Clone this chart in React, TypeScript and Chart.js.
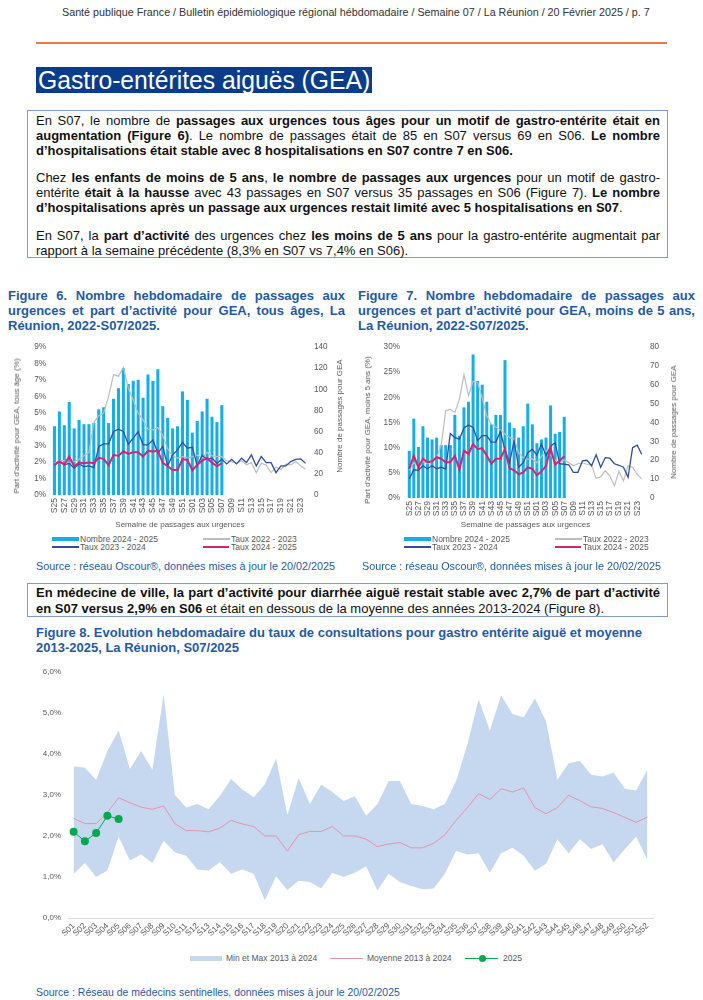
import React, { useEffect, useLayoutEffect, useRef, useState } from 'react';
import { Chart, registerables } from 'chart.js';

Chart.register(...registerables);

// ---------------- DATA ----------------
const weeksUrg = ['S25','S26','S27','S28','S29','S30','S31','S32','S33','S34','S35','S36','S37','S38','S39','S40','S41','S42','S43','S44','S45','S46','S47','S48','S49','S50','S51','S52','S01','S02','S03','S04','S05','S06','S07','S08','S09','S10','S11','S12','S13','S14','S15','S16','S17','S18','S19','S20','S21','S22','S23','S24'];
const weeksYear = ['S01','S02','S03','S04','S05','S06','S07','S08','S09','S10','S11','S12','S13','S14','S15','S16','S17','S18','S19','S20','S21','S22','S23','S24','S25','S26','S27','S28','S29','S30','S31','S32','S33','S34','S35','S36','S37','S38','S39','S40','S41','S42','S43','S44','S45','S46','S47','S48','S49','S50','S51','S52'];

// Figure 6 : tous âges
const fig6Nombre2425 = [65,79,66,88,63,71,67,67,68,81,83,68,91,101,120,105,108,109,92,114,108,119,84,73,63,65,98,90,59,70,79,91,74,69,85];
const fig6Taux2425 = [1.83,2.05,1.85,2.34,1.73,1.97,1.93,1.97,1.93,2.26,2.2,1.8,2.44,2.38,2.66,2.5,2.6,2.6,2.34,2.68,2.64,2.68,1.95,1.75,1.52,1.52,2.17,2.15,1.5,1.83,2.09,2.24,1.97,1.75,1.93];
const fig6Taux2324 = [1.83,2.03,1.83,1.93,1.63,1.89,1.73,1.77,1.67,2.95,3.11,3.11,3.86,4.0,3.86,3.09,3.46,3.86,3.05,3.05,3.35,2.54,2.95,1.77,2.44,2.74,3.2,2.85,2.9,1.77,2.4,2.17,2.24,1.93,2.17,1.89,2.17,1.89,2.24,1.97,2.44,1.77,2.34,1.97,1.97,1.36,1.77,1.77,2.03,2.17,2.2,1.93];
const fig6Taux2223 = [1.93,2.09,2.09,1.97,2.03,2.17,2.38,2.58,4.41,4.82,4.98,6.0,7.32,7.22,7.76,6.5,5.79,4.98,4.57,4.0,3.96,4.1,3.6,2.8,2.38,2.24,2.34,2.24,2.34,2.44,2.24,2.6,2.38,2.34,2.34,2.07,2.03,1.93,2.09,1.83,1.97,1.36,1.93,1.83,1.36,1.69,1.57,1.87,1.83,2.03,1.77,1.57];

// Figure 7 : moins de 5 ans
const fig7Nombre2425 = [25,42,27,38,32,31,32,28,28,28,44,33,48,51,76,62,60,51,39,44,44,73,40,37,32,38,50,39,29,31,32,49,34,35,43];
const fig7Taux2425 = [5.8,8.4,6.1,7.8,7.1,7.3,8.1,7.8,7.1,7.1,8.4,5.6,9.4,8.75,10.7,9.7,9.9,8.4,6.8,7.8,7.8,9.7,5.9,5.5,4.7,5.1,6.1,5.8,4.5,5.3,6.4,9.9,6.6,7.4,8.3];
const fig7Taux2324 = [3.8,5.6,5.5,6.4,5.8,6.4,5.8,6.1,5.8,12.8,12.0,11.7,13.9,14.5,14.0,11.4,12.4,12.4,11.1,11.1,13.2,9.5,7.0,11.3,6.1,7.0,9.0,9.7,8.5,10.7,8.4,10.3,11.0,6.8,6.7,6.6,5.1,5.1,7.4,7.5,6.4,8.6,6.1,8.0,7.9,6.8,6.5,6.1,4.1,10.0,10.5,8.7];
const fig7Taux2223 = [5.5,7.0,6.5,7.3,6.8,7.5,8.0,10.5,17.4,17.6,17.0,19.6,24.5,20.3,23.2,22.9,19.9,16.3,14.7,14.1,13.5,12.7,12.0,11.7,9.0,8.0,7.7,7.8,7.0,8.2,9.5,8.5,7.5,7.0,7.6,7.0,6.4,6.8,7.0,6.7,6.5,3.9,4.2,5.4,4.4,2.4,5.3,3.4,6.4,6.1,4.7,3.8];

// Figure 8 : médecins sentinelles
const fig8Max = [3.70,3.66,3.37,4.07,4.57,3.63,4.07,3.61,5.45,3.0,2.69,2.78,2.65,2.98,3.39,3.13,2.94,3.26,3.89,2.51,3.41,2.78,3.25,3.07,2.85,2.97,2.49,2.77,3.34,3.34,2.78,2.73,2.65,2.78,3.34,4.23,5.33,4.57,5.43,4.97,4.89,5.35,4.79,3.37,3.77,3.83,3.49,3.45,3.54,3.15,3.11,3.61];
const fig8Min = [1.07,1.34,1.0,1.16,1.98,1.40,1.55,1.34,1.88,1.60,1.52,1.18,1.16,1.36,1.08,1.18,1.08,0.43,1.02,0.68,0.91,0.88,0.72,1.10,1.0,1.10,1.26,0.67,1.08,0.88,0.78,0.70,0.72,1.08,1.63,1.55,1.58,1.10,1.58,1.71,1.52,1.15,1.32,1.92,1.58,1.92,1.68,1.80,1.36,1.68,1.98,1.42];
const fig8Moyenne = [2.43,2.30,2.30,2.57,2.93,2.81,2.70,2.65,2.73,2.30,2.13,2.13,2.10,2.19,2.38,2.29,2.23,2.0,2.0,1.63,2.03,2.11,2.11,2.23,2.0,2.0,1.92,1.74,1.80,1.84,1.71,1.71,1.82,2.03,2.38,2.69,3.03,2.89,3.15,3.07,3.17,2.69,2.54,2.69,2.99,2.86,2.71,2.67,2.57,2.45,2.33,2.46];
const fig8Annee2025 = [2.10,1.87,2.07,2.49,2.41];

// ---------------- STYLE ----------------
const SANS = '"Liberation Sans", Arial, Helvetica, sans-serif';
const TICK = '#595959';
const CYAN = '#16AEE6';
const DBLUE = '#2F4E9C';
const MAG = '#D4266F';
const GRAY = '#BDBDBD';
const BLUE_TXT = '#1F5AA8';
const BAND = '#C6D8EF';
const PINK = '#E496A8';
const GREEN = '#00A84F';

type UrgOpts = {
  nombre: number[]; t2425: number[]; t2324: number[]; t2223: number[];
  yMax: number; yStep: number; y1Max: number; y1Step: number;
  leftW: number; rightW: number; xH: number; padTop: number; catPct: number;
  leftPad: number; rightPad: number;
};

function urgConfig(o: UrgOpts): any {
  const tickFont = { family: SANS, size: 8.2 };
  return {
    type: 'bar',
    data: {
      labels: weeksUrg,
      datasets: [
        { type: 'line', label: 'Taux 2024 - 2025', data: o.t2425, borderColor: MAG, borderWidth: 2, pointRadius: 0, yAxisID: 'y', order: 1, fill: false },
        { type: 'line', label: 'Taux 2023 - 2024', data: o.t2324, borderColor: DBLUE, borderWidth: 1.3, pointRadius: 0, yAxisID: 'y', order: 2, fill: false },
        { type: 'line', label: 'Taux 2022 - 2023', data: o.t2223, borderColor: GRAY, borderWidth: 1.2, pointRadius: 0, yAxisID: 'y', order: 3, fill: false },
        { type: 'bar', label: 'Nombre 2024 - 2025', data: o.nombre, backgroundColor: CYAN, yAxisID: 'y1', order: 4, categoryPercentage: o.catPct, barPercentage: 1 },
      ],
    },
    options: {
      responsive: false,
      animation: false,
      events: [],
      layout: { padding: { top: o.padTop, left: 0, right: 0, bottom: 0 } },
      plugins: { legend: { display: false }, tooltip: { enabled: false } },
      scales: {
        x: {
          grid: { display: false, drawTicks: false },
          border: { display: false },
          ticks: {
            autoSkip: false, minRotation: 90, maxRotation: 90, font: { family: SANS, size: 8.6 }, color: TICK, padding: 3,
            callback: (_v: any, i: number) => (i % 2 === 0 ? weeksUrg[i] : ''),
          },
          title: { display: true, text: 'Semaine de passages aux urgences', font: { family: SANS, size: 8 }, color: TICK, padding: { top: 0, bottom: 0 } },
          afterFit: (s: any) => { s.height = o.xH; },
        },
        y: {
          position: 'left', min: 0, max: o.yMax,
          grid: { display: false, drawTicks: false }, border: { display: false },
          ticks: { stepSize: o.yStep, font: tickFont, color: TICK, padding: o.leftPad, callback: (v: any) => v + '%' },
          afterFit: (s: any) => { s.width = o.leftW; },
        },
        y1: {
          position: 'right', min: 0, max: o.y1Max,
          grid: { display: false, drawTicks: false }, border: { display: false },
          ticks: { stepSize: o.y1Step, font: tickFont, color: TICK, padding: o.rightPad },
          afterFit: (s: any) => { s.width = o.rightW; },
        },
      },
    },
  };
}

function fig8Config(): any {
  const tickFont = { family: SANS, size: 8 };
  return {
    type: 'line',
    data: {
      labels: weeksYear,
      datasets: [
        { label: '2025', data: fig8Annee2025, borderColor: GREEN, borderWidth: 1, pointRadius: 4, pointBackgroundColor: GREEN, pointBorderWidth: 0, fill: false, order: 0 },
        { label: 'Moyenne 2013 à 2024', data: fig8Moyenne, borderColor: PINK, borderWidth: 1, pointRadius: 0, fill: false, order: 1 },
        { label: 'Max', data: fig8Max, borderWidth: 0, borderColor: 'rgba(0,0,0,0)', backgroundColor: BAND, pointRadius: 0, fill: '+1', order: 3 },
        { label: 'Min', data: fig8Min, borderWidth: 0, borderColor: 'rgba(0,0,0,0)', backgroundColor: BAND, pointRadius: 0, fill: false, order: 2 },
      ],
    },
    options: {
      responsive: false,
      animation: false,
      events: [],
      layout: { padding: { top: 8.5, left: 0, right: 50, bottom: 0 } },
      plugins: { legend: { display: false }, tooltip: { enabled: false }, filler: { drawTime: 'beforeDatasetsDraw' } },
      scales: {
        x: {
          offset: true,
          grid: { display: false, drawTicks: false },
          border: { display: true, color: '#D9D9D9', width: 1 },
          ticks: { autoSkip: false, minRotation: 45, maxRotation: 45, font: { family: SANS, size: 8.3 }, color: TICK, padding: 3 },
          afterFit: (s: any) => { s.height = 27; },
        },
        y: {
          min: 0, max: 6,
          grid: { display: false, drawTicks: false }, border: { display: false },
          ticks: { stepSize: 1, font: tickFont, color: TICK, padding: 7, callback: (v: any) => Number(v).toFixed(1).replace('.', ',') + '%' },
          afterFit: (s: any) => { s.width = 68; },
        },
      },
    },
  };
}

// ---------------- COMPONENTS ----------------
function ChartCanvas({ left, top, width, height, make }: { left: number; top: number; width: number; height: number; make: () => any }) {
  const ref = useRef<HTMLCanvasElement | null>(null);
  useEffect(() => {
    const c = new Chart(ref.current as HTMLCanvasElement, make());
    return () => c.destroy();
  }, []);
  return <canvas ref={ref} width={width} height={height} style={{ position: 'absolute', left, top, width, height }} />;
}

// A line of text fitted to a width. mode: 'justify' (spaces stretched), 'last' (left aligned), 'exact' (scaled to width)
function FitLine({ x, y, w, size = 13, weight = 400, color = '#111', lh = 18, maxScale = 1, mode = 'justify', children }: any) {
  const meas = useRef<HTMLSpanElement | null>(null);
  const [s, setS] = useState(1);
  useLayoutEffect(() => {
    if (!meas.current) return;
    const nat = meas.current.offsetWidth;
    if (nat > 0) {
      if (mode === 'exact') setS(w / nat);
      else setS(Math.min(maxScale, w / nat));
    }
  }, [w, maxScale, mode]);
  const font: any = { fontFamily: SANS, fontSize: size, fontWeight: weight, whiteSpace: 'nowrap' };
  const align = mode === 'justify' ? 'justify' : 'left';
  return (
    <>
      <span ref={meas} style={{ ...font, position: 'absolute', left: 0, top: 0, visibility: 'hidden' }}>{children}</span>
      <div style={{
        ...font, position: 'absolute', left: x, top: y - lh / 2, width: w / s, height: lh, lineHeight: lh + 'px', color,
        textAlign: align, textAlignLast: align, transform: `scaleX(${s})`, transformOrigin: '0 0',
      } as any}>{children}</div>
    </>
  );
}

function Txt({ x, y, size = 8.5, color = TICK, weight = 400, children }: any) {
  return (
    <div style={{ position: 'absolute', left: x, top: y - 6, height: 12, lineHeight: '12px', fontFamily: SANS, fontSize: size, fontWeight: weight, color, whiteSpace: 'nowrap' }}>{children}</div>
  );
}

function VTitle({ cx, cy, size = 8, children }: any) {
  return (
    <div style={{ position: 'absolute', left: cx, top: cy, transform: 'translate(-50%, -50%) rotate(-90deg)', fontFamily: SANS, fontSize: size, color: TICK, whiteSpace: 'nowrap', lineHeight: '10px' }}>{children}</div>
  );
}

function Swatch({ x, y, w, h, color }: any) {
  return <div style={{ position: 'absolute', left: x, top: y - h / 2, width: w, height: h, background: color }} />;
}

function UrgLegend({ ox }: { ox: number }) {
  return (
    <>
      <Swatch x={ox + 52} y={539} w={27} h={4} color={CYAN} />
      <Txt x={ox + 80} y={539}>Nombre 2024 - 2025</Txt>
      <Swatch x={ox + 203} y={539} w={27} h={1.5} color={GRAY} />
      <Txt x={ox + 231} y={539}>Taux 2022 - 2023</Txt>
      <Swatch x={ox + 52} y={547} w={27} h={1.5} color={DBLUE} />
      <Txt x={ox + 80} y={547}>Taux 2023 - 2024</Txt>
      <Swatch x={ox + 203} y={547} w={26} h={2.2} color={MAG} />
      <Txt x={ox + 231} y={547}>Taux 2024 - 2025</Txt>
    </>
  );
}

export default function App() {
  const boxBorder = '1px solid #7E9CD0';
  const T = { size: 13, weight: 700, color: BLUE_TXT, lh: 16 };
  return (
    <div style={{ position: 'absolute', left: 0, top: 0, width: 703, height: 1000, background: '#fff', overflow: 'hidden' }}>
      {/* Header */}
      <FitLine x={62} y={12} w={588} size={11} color="#333" lh={16} mode="exact">Santé publique France / Bulletin épidémiologique régional hébdomadaire / Semaine 07 / La Réunion / 20 Février 2025 / p. 7</FitLine>
      <div style={{ position: 'absolute', left: 36, top: 42, width: 631, height: 2, background: '#E97A4F' }} />

      {/* Section title */}
      <div style={{ position: 'absolute', left: 36, top: 67, width: 336, height: 26, background: '#0A3C8C' }} />
      <FitLine x={38} y={80} w={332} size={25} color="#fff" lh={26} mode="exact">Gastro-entérites aiguës (GEA)</FitLine>

      {/* Text box 1 */}
      <div style={{ position: 'absolute', left: 27, top: 110, width: 641, height: 148, border: boxBorder, boxSizing: 'border-box' }} />
      <FitLine x={36} y={121} w={624}>En S07, le nombre de <b>passages aux urgences tous âges pour un motif de gastro-entérite était en</b></FitLine>
      <FitLine x={36} y={136} w={624}><b>augmentation (Figure 6)</b>. Le nombre de passages était de 85 en S07 versus 69 en S06. <b>Le nombre</b></FitLine>
      <FitLine x={36} y={151} w={624} mode="last"><b>d’hospitalisations était stable avec 8 hospitalisations en S07 contre 7 en S06.</b></FitLine>
      <FitLine x={36} y={178} w={624}>Chez <b>les enfants de moins de 5 ans</b>, <b>le nombre de passages aux urgences</b> pour un motif de gastro-</FitLine>
      <FitLine x={36} y={193} w={624}>entérite <b>était à la hausse</b> avec 43 passages en S07 versus 35 passages en S06 (Figure 7). <b>Le nombre</b></FitLine>
      <FitLine x={36} y={208} w={624} mode="last"><b>d’hospitalisations après un passage aux urgences restait limité avec 5 hospitalisations en S07</b>.</FitLine>
      <FitLine x={36} y={236} w={624}>En S07, la <b>part d’activité</b> des urgences chez <b>les moins de 5 ans</b> pour la gastro-entérite augmentait par</FitLine>
      <FitLine x={36} y={251} w={624} mode="last">rapport à la semaine précédente (8,3% en S07 vs 7,4% en S06).</FitLine>

      {/* Figure 6 title */}
      <FitLine x={8} y={296} w={337} {...T}>Figure 6. Nombre hebdomadaire de passages aux</FitLine>
      <FitLine x={8} y={311} w={337} {...T}>urgences et part d’activité pour GEA, tous âges, La</FitLine>
      <FitLine x={8} y={326} w={337} {...T} mode="last">Réunion, 2022-S07/2025.</FitLine>

      {/* Figure 7 title */}
      <FitLine x={358} y={296} w={337} {...T}>Figure 7. Nombre hebdomadaire de passages aux</FitLine>
      <FitLine x={358} y={311} w={337} {...T}>urgences et part d’activité pour GEA, moins de 5 ans,</FitLine>
      <FitLine x={358} y={326} w={337} {...T} mode="last">La Réunion, 2022-S07/2025.</FitLine>

      {/* Figure 6 chart */}
      <ChartCanvas left={0} top={335} width={352} height={195} make={() => urgConfig({
        nombre: fig6Nombre2425, t2425: fig6Taux2425, t2324: fig6Taux2324, t2223: fig6Taux2223,
        yMax: 9, yStep: 1, y1Max: 140, y1Step: 20, leftW: 52, rightW: 44, xH: 35, padTop: 12, catPct: 0.62, leftPad: 6, rightPad: 6,
      })} />
      <VTitle cx={17} cy={426}>Part d’activité pour GEA, tous âge (%)</VTitle>
      <VTitle cx={340} cy={416}>Nombre de passages pour GEA</VTitle>
      <UrgLegend ox={0} />
      <Txt x={36} y={566} size={10.8} color={BLUE_TXT}>Source : réseau Oscour®, données mises à jour le 20/02/2025</Txt>

      {/* Figure 7 chart */}
      <ChartCanvas left={352} top={335} width={351} height={195} make={() => urgConfig({
        nombre: fig7Nombre2425, t2425: fig7Taux2425, t2324: fig7Taux2324, t2223: fig7Taux2223,
        yMax: 30, yStep: 5, y1Max: 80, y1Step: 10, leftW: 55, rightW: 59, xH: 32, padTop: 11, catPct: 0.66, leftPad: 7, rightPad: 6,
      })} />
      <VTitle cx={368} cy={430}>Part d’activité pour GEA, moins 5 ans (%)</VTitle>
      <VTitle cx={674} cy={422}>Nombre de passages pour GEA</VTitle>
      <UrgLegend ox={352} />
      <Txt x={362} y={566} size={10.8} color={BLUE_TXT}>Source : réseau Oscour®, données mises à jour le 20/02/2025</Txt>

      {/* Text box 2 */}
      <div style={{ position: 'absolute', left: 27, top: 583, width: 641, height: 34, border: boxBorder, boxSizing: 'border-box' }} />
      <FitLine x={36} y={593} w={624}><b>En médecine de ville, la part d’activité pour diarrhée aiguë restait stable avec 2,7% de part d’activité</b></FitLine>
      <FitLine x={36} y={609} w={624} mode="last"><b>en S07 versus 2,9% en S06</b> et était en dessous de la moyenne des années 2013-2024 (Figure 8).</FitLine>

      {/* Figure 8 title */}
      <FitLine x={36} y={633} w={610} size={13} weight={700} color={BLUE_TXT} lh={16} mode="last">Figure 8. Evolution hebdomadaire du taux de consultations pour gastro entérite aiguë et moyenne</FitLine>
      <FitLine x={36} y={648} w={610} size={13} weight={700} color={BLUE_TXT} lh={16} mode="last">2013-2025, La Réunion, S07/2025</FitLine>

      {/* Figure 8 chart */}
      <ChartCanvas left={0} top={660} width={703} height={285} make={fig8Config} />

      {/* Figure 8 legend */}
      <Swatch x={190} y={958} w={32} h={5} color={BAND} />
      <Txt x={226} y={958}>Min et Max 2013 à 2024</Txt>
      <Swatch x={330} y={958} w={33} h={1} color={PINK} />
      <Txt x={367} y={958}>Moyenne 2013 à 2024</Txt>
      <Swatch x={465} y={958} w={33} h={1} color={GREEN} />
      <div style={{ position: 'absolute', left: 478.5, top: 954.5, width: 7, height: 7, borderRadius: 4, background: GREEN }} />
      <Txt x={503} y={958}>2025</Txt>

      <FitLine x={36} y={992} w={364} size={11} color={BLUE_TXT} lh={14} mode="exact">Source : Réseau de médecins sentinelles, données mises à jour le 20/02/2025</FitLine>
    </div>
  );
}
